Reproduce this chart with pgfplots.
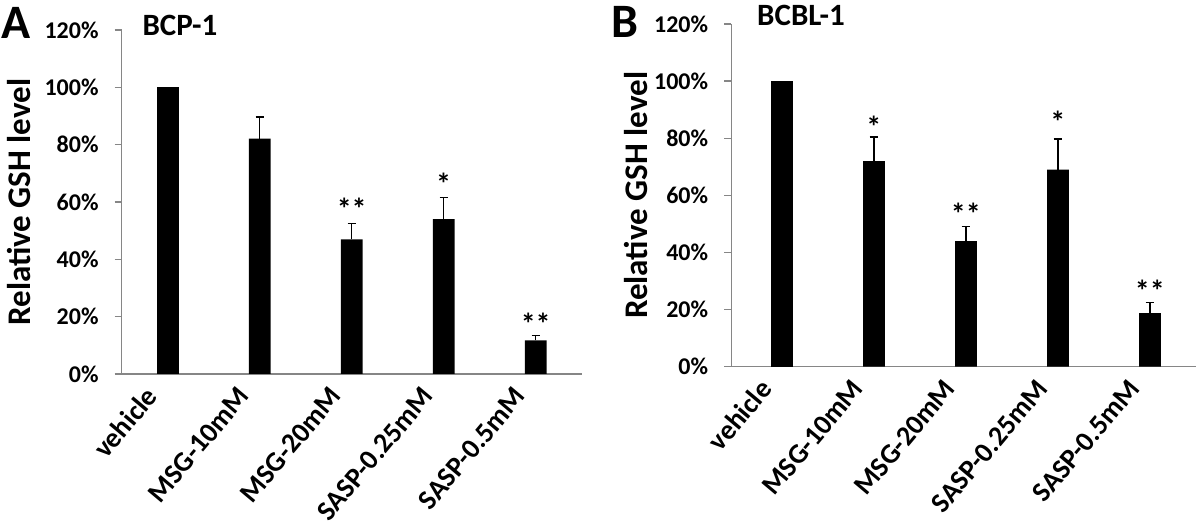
\documentclass[border=0pt]{standalone}
\usepackage{fontspec}
\setmainfont{Carlito}
\usepackage{pgfplots}
\pgfplotsset{compat=1.18}
\definecolor{axisgray}{RGB}{134,134,134}
\tikzset{sigstar/.style={anchor=north, inner sep=0pt, font=\fontsize{30}{30}\selectfont\bfseries}}
\pgfplotsset{
  gsh/.style={
    scale only axis,
    ybar, bar width=21.8pt, bar shift=0pt,
    enlargelimits=false,
    ymin=0, ymax=120, ytick={0,20,...,120},
    yticklabel={\pgfmathprintnumber{\tick}\%},
    /pgf/number format/assume math mode=true,
    xtick={-0.174,0.826,1.826,2.826,3.826},
    xticklabels={vehicle,MSG-10mM,MSG-20mM,SASP-0.25mM,SASP-0.5mM},
    axis x line*=bottom, axis y line*=left,
    axis line style={draw=axisgray, line width=1.3pt},
    x tick style={draw=none},
    y tick style={draw=axisgray, line width=1.3pt},
    tick align=outside, major tick length=7pt,
    yticklabel style={font=\fontsize{24}{24}\selectfont\bfseries, inner sep=0pt, xshift=-16pt},
    xticklabel shift=10pt,
    xticklabel style={font=\fontsize{28}{28}\selectfont\bfseries, inner sep=0pt, rotate=50, anchor=east},
    ylabel={Relative GSH level},
    ylabel style={font=\fontsize{33}{33}\selectfont\bfseries, anchor=center},
    clip=false,
  },
  gshbar/.style={fill=black, draw=none,
    error bars/.cd, y dir=plus, y explicit,
    error bar style={black, line width=1.3pt},
    error mark options={black, line width=1.3pt, mark size=4.2pt, rotate=90}},
}
\begin{document}
\begin{tikzpicture}
\useasboundingbox (0pt,0pt) rectangle (1200pt,524pt);
% Panel A
\begin{axis}[gsh, at={(121.7pt,150pt)}, anchor=south west,
  width=460pt, height=344pt, xmin=-0.5, xmax=4.5,
  ylabel style={at={(axis description cs:-0.223,0.5)}}]
\addplot[fill=black, draw=none] coordinates {(0,100)};
\addplot[gshbar] coordinates {
  (1,82.1) +- (0,7.5)
  (2,47.0) +- (0,5.6)
  (3,54.0) +- (0,7.5)
  (4,11.7) +- (0,1.8)
};
\node[sigstar] at (axis cs:2,61.5) {**};
\node[sigstar] at (axis cs:3,70.0) {*};
\node[sigstar] at (axis cs:4,21.2) {**};
\end{axis}
% Panel B
\begin{axis}[gsh, at={(731.3pt,157.3pt)}, anchor=south west,
  width=464.6pt, height=342.7pt, xmin=-0.55, xmax=4.5,
  ylabel style={at={(axis description cs:-0.205,0.5)}}]
\addplot[fill=black, draw=none] coordinates {(0,100)};
\addplot[gshbar] coordinates {
  (1,72.0) +- (0,8.4)
  (2,44.0) +- (0,5.0)
  (3,69.0) +- (0,10.7)
  (4,18.8) +- (0,3.6)
};
\node[sigstar] at (axis cs:1,87.9) {*};
\node[sigstar] at (axis cs:2,57.3) {**};
\node[sigstar] at (axis cs:3,89.6) {*};
\node[sigstar] at (axis cs:4,30.4) {**};
\end{axis}
\node[font=\fontsize{48}{48}\selectfont\bfseries] at (16.5pt,501.5pt) {A};
\node[font=\fontsize{31}{31}\selectfont\bfseries] at (180pt,499pt) {BCP-1};
\node[font=\fontsize{48}{48}\selectfont\bfseries] at (625pt,502.4pt) {B};
\node[font=\fontsize{31}{31}\selectfont\bfseries] at (801pt,509pt) {BCBL-1};
\end{tikzpicture}
\end{document}
